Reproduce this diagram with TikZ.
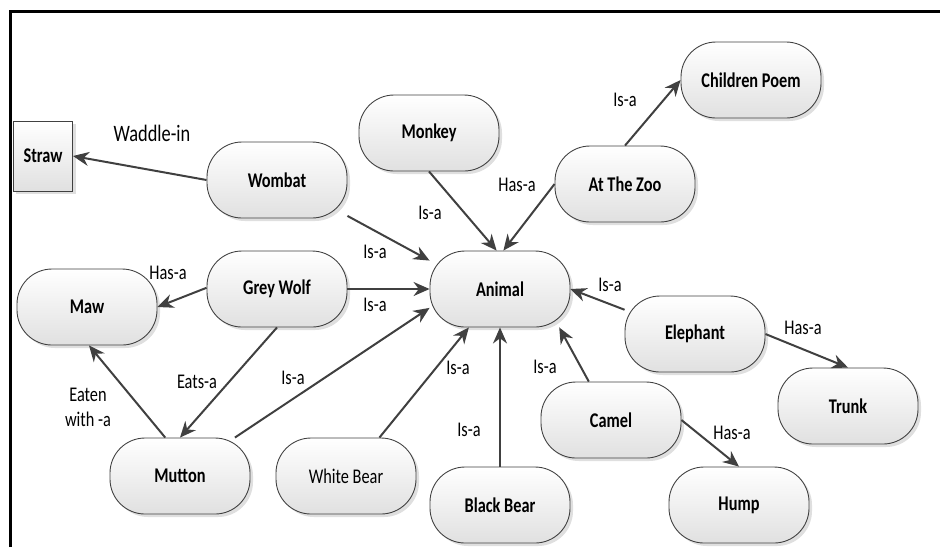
\documentclass[tikz,border=0pt]{standalone}
\usepackage{fontspec}
\setmainfont{Carlito}[FakeStretch=0.78]
\usepackage{tikz}
\usepackage{xcolor}
\usetikzlibrary{arrows.meta,shadows}

\definecolor{edgegrey}{HTML}{404040}

\begin{document}
\begin{tikzpicture}[x=0.2mm,y=-0.2mm,
  concept/.style={draw=black!75,line width=0.5pt,rounded corners=7mm,
    minimum width=28mm,minimum height=15.2mm,inner sep=0pt,
    top color=white,bottom color=black!12,
    drop shadow={opacity=0.25,shadow xshift=0.6mm,shadow yshift=-0.6mm},
    font=\fontsize{11.9}{14}\selectfont\bfseries},
  thing/.style={concept,rounded corners=0pt,minimum width=11.8mm,minimum height=14mm},
  rel/.style={-{Stealth[length=3.2mm,width=2.8mm]},edgegrey,line width=0.4mm},
  tag/.style={inner sep=1pt,font=\fontsize{11.9}{14}\selectfont}]
\useasboundingbox (0,0) rectangle (940,547);
\draw[line width=0.6mm] (10.5,547) -- (10.5,11.5) -- (940,11.5);

% the things
\node[thing] (straw) at (43,156) {Straw};
\node[concept] (wombat) at (277,180) {Wombat};
\node[concept] (monkey) at (429,133) {Monkey};
\node[concept] (zoo) at (625,184) {At The Zoo};
\node[concept] (poem) at (751,80) {Children Poem};
\node[concept] (maw) at (87,307) {Maw};
\node[concept] (wolf) at (277,289) {Grey Wolf};
\node[concept] (animal) at (500,289) {Animal};
\node[concept] (elephant) at (695,334) {Elephant};
\node[concept] (trunk) at (848,406) {Trunk};
\node[concept] (camel) at (611,420) {Camel};
\node[concept] (hump) at (739,505) {Hump};
\node[concept] (mutton) at (180,476) {Mutton};
\node[concept,font=\fontsize{11.9}{14}\selectfont] (whitebear) at (346,476) {White Bear};
\node[concept] (blackbear) at (500,505) {Black Bear};

% the relations
\draw[rel] (wombat.west) -- (straw.east);
\draw[rel] (wombat.-27) -- (animal.158);
\draw[rel] (monkey.south) -- (animal.95);
\draw[rel] (zoo.west) -- (animal.85);
\draw[rel] (zoo.north) -- (poem.west);
\draw[rel] (wolf.179) -- (maw.east);
\draw[rel] (wolf.east) -- (animal.west);
\draw[rel] (wolf.south) -- (mutton.north);
\draw[rel] (mutton.111) -- (maw.-87);
\draw[rel] (mutton.35) -- (animal.195);
\draw[rel] (whitebear.49) -- (animal.-129);
\draw[rel] (blackbear.north) -- (animal.south);
\draw[rel] (camel.120) -- (animal.-33);
\draw[rel] (camel.east) -- (hump.north);
\draw[rel] (elephant.161) -- (animal.east);
\draw[rel] (elephant.east) -- (trunk.north);

% labels
\node[tag,font=\fontsize{13.4}{15}\selectfont] (waddle) at (152,133) {Waddle-in};
\node[tag] (isa1) at (375,252) {Is-a};
\node[tag] (isa2) at (430,213) {Is-a};
\node[tag] (hasa1) at (517,185) {Has-a};
\node[tag] (isa3) at (625,100) {Is-a};
\node[tag] (hasa2) at (168,273) {Has-a};
\node[tag] (isa4) at (375,305) {Is-a};
\node[tag] (eats) at (197,382) {Eats-a};
\node[tag,align=center,font=\fontsize{11.9}{14.2}\selectfont] (eaten) at (88,407) {Eaten\\with -a};
\node[tag] (isa5) at (293,378) {Is-a};
\node[tag] (isa6) at (458,368) {Is-a};
\node[tag] (isa7) at (469,430) {Is-a};
\node[tag] (isa8) at (545,367) {Is-a};
\node[tag] (hasa3) at (732,433) {Has-a};
\node[tag] (isa9) at (610,285) {Is-a};
\node[tag] (hasa4) at (803,328) {Has-a};
\end{tikzpicture}
\end{document}
